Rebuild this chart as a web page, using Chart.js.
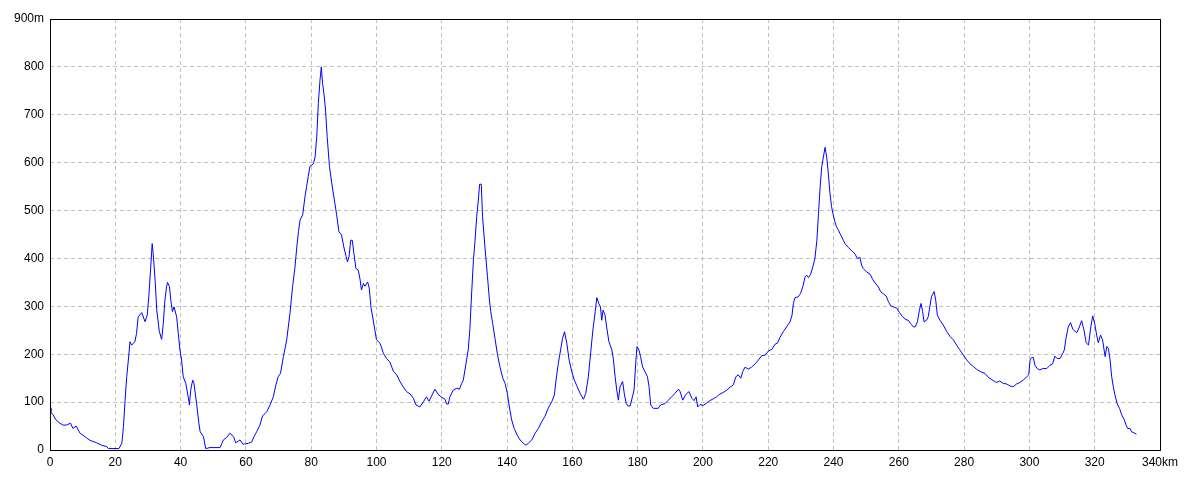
<!DOCTYPE html>
<html>
<head>
<meta charset="utf-8">
<script src="https://cdn.jsdelivr.net/npm/chart.js@4/dist/chart.umd.min.js"></script>
<style>
  html, body { margin: 0; padding: 0; background: #fff; }
  #wrap { width: 1200px; height: 480px; }
</style>
</head>
<body>
<div id="wrap"><canvas id="profile"></canvas></div>
<script>
// elevation profile, distance along the route (km) vs height (m)
const distanceKm = [
  0, 0.3, 1, 1.8, 3, 4, 5, 6.3, 7, 8, 9.2, 10.7, 11.4, 12.3, 14.3, 15.8, 17.4, 17.9, 21.1, 22,
  22.5, 23, 23.5, 24, 24.5, 25, 26, 26.5, 27, 28.1, 29.1, 29.8, 30.3, 30.8, 31.3, 31.6, 32.2, 32.7, 33.5, 34.2,
  34.7, 35.2, 35.7, 36, 36.6, 37, 37.5, 38, 38.8, 39.3, 39.8, 40.3, 40.8, 41.6, 42.4, 42.7, 43.1, 43.7, 44.1, 44.9,
  45.6, 46, 47, 47.7, 49, 52.1, 53.1, 54.1, 55.1, 56.2, 56.9, 58.2, 59.1, 60.8, 61.8, 62.5, 63.3, 64.3, 65.1, 66.4,
  67.4, 68.4, 69.2, 69.9, 70.6, 71.5, 72.5, 73.5, 74.3, 75, 75.6, 76.1, 76.6, 77.4, 78.1, 78.6, 79.1, 79.6, 80.7, 81.2,
  81.7, 82.2, 82.7, 83.1, 83.5, 83.9, 84.4, 84.9, 85.6, 86.3, 87.1, 87.8, 88.5, 89.3, 90, 90.7, 91.1, 91.6, 92.1, 92.6,
  93.1, 93.7, 94.4, 95, 95.4, 96, 96.5, 97.3, 97.8, 98.3, 99, 99.5, 100, 101.1, 102.1, 103.1, 104.1, 105.2, 106.2, 107.2,
  108.2, 109.2, 110.3, 111.3, 112.1, 113.3, 114.4, 115.3, 116.1, 117.9, 118.9, 120, 121, 121.5, 122, 122.5, 123.5, 124.6, 125.4, 126.1,
  126.6, 127.1, 127.6, 128.1, 128.6, 129.2, 129.7, 130.2, 130.7, 131.2, 131.6, 132.1, 132.5, 133.3, 134, 134.6, 135, 135.6, 136.3, 137,
  137.8, 138.7, 139.4, 140.1, 140.7, 141.4, 142.2, 143.1, 144, 145, 145.8, 146.5, 147.6, 148.6, 149.6, 150.6, 151.6, 152.6, 153.7, 154.5,
  155, 155.7, 156.4, 157, 157.6, 158.3, 159, 159.8, 160.6, 161.5, 162.4, 163.4, 164.1, 164.9, 165.6, 166.3, 167, 167.5, 168.1, 168.6,
  169, 169.4, 170, 170.5, 171.2, 172.1, 172.6, 173.1, 173.6, 174.1, 174.6, 175.4, 175.9, 176.5, 177, 177.7, 178.4, 178.9, 179.4, 179.8,
  180.4, 180.9, 181.5, 182.2, 183, 183.5, 184, 184.8, 186.3, 187, 188.4, 189.4, 190.4, 191.4, 192.5, 193, 193.8, 194.7, 195.7, 196.6,
  197.3, 197.9, 198.4, 199.1, 200.1, 201.1, 202.1, 203.2, 204.2, 205.2, 206.2, 207.3, 208.3, 209.3, 210.1, 210.8, 211.6, 212.2, 212.9, 213.9,
  214.9, 216, 217, 218, 219, 220.1, 221.1, 222.1, 222.8, 223.6, 224.6, 225.6, 226.7, 227.3, 227.7, 228.2, 229.2, 229.9, 230.6, 231.3,
  231.8, 232.3, 233, 233.8, 234.3, 234.9, 235.4, 235.9, 236.4, 236.9, 237.4, 237.9, 238.4, 238.9, 239.4, 239.9, 240.4, 240.9, 241.5, 242.2,
  243, 243.5, 244.5, 245.6, 246.6, 247.3, 248.1, 248.6, 249.1, 250.1, 251.2, 252, 252.7, 253.7, 254.4, 255.3, 256.1, 256.8, 257.5, 258.3,
  259.4, 260.2, 261.2, 262.2, 262.9, 263.6, 264.5, 265, 265.7, 266.3, 266.8, 267.3, 267.7, 268.5, 269, 269.5, 270, 270.8, 271.3, 271.8,
  272.6, 273.6, 274.7, 275.7, 276.7, 277.7, 278.7, 279.8, 280.8, 281.8, 282.9, 283.9, 284.9, 286.4, 287.4, 288.9, 289.9, 290.9, 292, 293,
  294, 295, 296.1, 297.1, 298.1, 299.2, 299.8, 300.2, 300.7, 301.2, 301.7, 302.4, 303.2, 304, 305.3, 306.3, 307.1, 307.8, 308.5, 309.4,
  310.1, 310.7, 311.2, 311.9, 312.6, 313.3, 314.5, 315.3, 316, 316.7, 317.4, 318.1, 318.8, 319.4, 320, 320.6, 321.1, 321.8, 322.4, 323.2,
  323.7, 324.2, 324.7, 325.2, 325.7, 326.2, 326.9, 327.6, 328.3, 329, 329.6, 330.1, 330.8, 331.3, 332, 332.8
];
const elevationM = [
  88, 78, 73, 63, 56, 52, 52, 56, 45, 50, 35, 28, 24, 20, 15, 10, 7, 3, 3, 14,
  49, 104, 153, 188, 226, 219, 226, 243, 278, 287, 268, 282, 324, 376, 431, 410, 355, 292, 247, 231,
  264, 313, 341, 350, 341, 313, 289, 299, 278, 243, 209, 188, 153, 139, 108, 94, 125, 146, 139, 97,
  56, 38, 28, 3, 5, 5, 21, 26, 35, 28, 15, 21, 12, 14, 17, 28, 38, 52, 71, 80,
  94, 111, 136, 153, 160, 195, 230, 285, 341, 379, 424, 456, 480, 491, 529, 550, 571, 592, 598, 612,
  654, 724, 772, 800, 765, 745, 710, 654, 592, 557, 522, 491, 456, 449, 424, 404, 393, 404, 438, 438,
  410, 379, 376, 355, 334, 348, 342, 351, 338, 299, 271, 251, 230, 223, 202, 191, 184, 164, 157, 143,
  132, 122, 117, 108, 94, 90, 101, 111, 102, 127, 116, 110, 106, 96, 96, 111, 125, 129, 127, 139,
  146, 167, 188, 209, 251, 334, 397, 438, 487, 522, 555, 555, 487, 418, 362, 313, 289, 264, 233, 202,
  174, 150, 139, 118, 90, 63, 45, 31, 21, 14, 10, 14, 21, 35, 45, 59, 70, 87, 101, 115,
  146, 181, 209, 233, 247, 223, 188, 164, 146, 132, 118, 106, 118, 153, 202, 251, 289, 318, 306, 299,
  271, 292, 282, 257, 226, 209, 188, 153, 125, 104, 132, 143, 118, 97, 92, 92, 111, 125, 181, 216,
  209, 195, 174, 164, 153, 132, 94, 87, 87, 94, 97, 104, 111, 118, 127, 122, 104, 115, 122, 108,
  103, 111, 90, 95, 93, 98, 103, 107, 111, 117, 120, 125, 131, 136, 153, 157, 150, 164, 173, 169,
  173, 180, 188, 197, 198, 207, 210, 221, 223, 235, 247, 257, 268, 282, 306, 318, 320, 327, 341, 362,
  365, 360, 367, 386, 400, 438, 494, 550, 592, 612, 632, 612, 578, 536, 508, 491, 477, 466, 459, 449,
  438, 431, 423, 416, 409, 400, 402, 386, 379, 372, 367, 356, 349, 341, 331, 326, 322, 310, 301, 299,
  296, 287, 278, 272, 271, 264, 257, 257, 268, 292, 306, 289, 268, 271, 278, 299, 320, 331, 313, 282,
  271, 261, 247, 237, 230, 219, 209, 198, 188, 180, 174, 168, 164, 160, 152, 145, 141, 144, 139, 138,
  134, 132, 138, 141, 146, 153, 157, 188, 193, 193, 177, 170, 167, 170, 170, 177, 180, 196, 191, 191,
  200, 209, 233, 257, 266, 252, 245, 257, 270, 251, 224, 219, 257, 280, 264, 240, 224, 240, 230, 195,
  216, 212, 188, 153, 132, 115, 96, 87, 73, 64, 52, 45, 45, 38, 36, 33
];

const X_MAX = 340;
const Y_MAX = 900;
const X_STEP = 20;
const Y_STEP = 100;

const FONT = { family: "'Liberation Sans', Arial, sans-serif", size: 12 };
const GRID_DASH = [4, 3];

// the original draws a closed black frame round the plot
const frame = {
  id: 'frame',
  afterDraw(chart) {
    const { ctx, chartArea: a } = chart;
    ctx.save();
    ctx.strokeStyle = '#000';
    ctx.lineWidth = 1;
    ctx.setLineDash([]);
    ctx.strokeRect(Math.round(a.left) + 0.5, Math.round(a.top) + 0.5,
      Math.round(a.right - a.left), Math.round(a.bottom - a.top));
    ctx.restore();
  }
};

new Chart(document.getElementById('profile'), {
  type: 'line',
  data: {
    datasets: [{
      data: distanceKm.map((d, i) => ({ x: d, y: elevationM[i] })),
      borderColor: '#0000ff',
      borderWidth: 1,
      pointRadius: 0,
      tension: 0,
      fill: false
    }]
  },
  options: {
    responsive: true,
    maintainAspectRatio: false,
    animation: false,
    layout: { padding: { top: 19, right: 40, left: 0, bottom: 0 } },
    plugins: { legend: { display: false }, tooltip: { enabled: false } },
    scales: {
      x: {
        type: 'linear',
        min: 0, max: X_MAX,
        afterFit: s => { s.height = 30; },
        border: { display: false, dash: GRID_DASH },
        grid: { color: '#c0c0c0', drawTicks: false },
        ticks: {
          stepSize: X_STEP,
          padding: 5,
          color: '#000',
          font: FONT,
          maxRotation: 0,
          autoSkip: false,
          callback: v => v === X_MAX ? v + 'km' : v
        }
      },
      y: {
        min: 0, max: Y_MAX,
        afterFit: s => { s.width = 50; },
        border: { display: false, dash: GRID_DASH },
        grid: { color: '#c0c0c0', drawTicks: false },
        ticks: {
          stepSize: Y_STEP,
          padding: 6,
          color: '#000',
          font: FONT,
          callback: v => v === Y_MAX ? v + 'm' : v
        }
      }
    }
  },
  plugins: [frame]
});
</script>
</body>
</html>
